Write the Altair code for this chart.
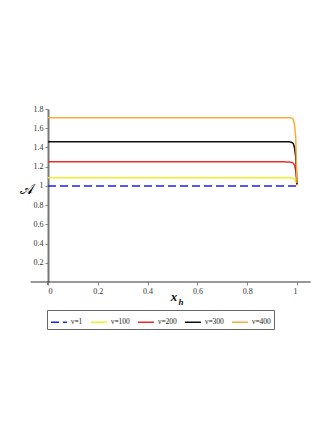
import altair as alt
import pandas as pd

series = ["ν=1", "ν=100", "ν=200", "ν=300", "ν=400"]
colors = ["#1f1ff0", "#f2ee2a", "#ee2a2a", "#111111", "#f7ad3a"]
dashes = [[8, 4], [1, 0], [1, 0], [1, 0], [1, 0]]

xh = [0.0, 0.95, 0.97, 0.98, 0.985, 0.99, 0.995, 1.0]
a_nu1 = [1.0, 1.0, 1.0, 1.0, 1.0, 1.0, 1.0, 1.0]
a_nu100 = [1.085, 1.085, 1.084, 1.082, 1.078, 1.068, 1.045, 1.0]
a_nu200 = [1.25, 1.25, 1.248, 1.244, 1.236, 1.215, 1.16, 1.01]
a_nu300 = [1.46, 1.46, 1.458, 1.452, 1.44, 1.40, 1.30, 1.02]
a_nu400 = [1.71, 1.71, 1.709, 1.705, 1.69, 1.64, 1.50, 1.03]

x_ticks = [0, 0.2, 0.4, 0.6, 0.8, 1.0]
y_ticks = [0.2, 0.4, 0.6, 0.8, 1.0, 1.2, 1.4, 1.6, 1.8]

rows = []
for name, vals in zip(series, [a_nu1, a_nu100, a_nu200, a_nu300, a_nu400]):
    for x, v in zip(xh, vals):
        rows.append({"series": name, "x": x, "A": v})
df = pd.DataFrame(rows)

FONT = "Liberation Serif"

xscale = alt.Scale(domain=[0, 1], nice=False, zero=False)
yscale = alt.Scale(domain=[0, 1.8], nice=False)

x_axis = alt.Axis(values=x_ticks, format="~g", title=None, grid=False,
                  domain=False, tickSize=3, tickColor="#888",
                  labelPadding=2, labelOverlap=False)
y_axis = alt.Axis(values=y_ticks, format="~g", grid=False,
                  domain=True, domainColor="#777", domainWidth=2,
                  tickSize=3, tickColor="#888", labelPadding=2,
                  labelOverlap=False,
                  title="𝒜", titleAngle=0, titleX=-22, titleY=87,
                  titleFont=FONT, titleFontSize=15,
                  titleFontWeight="normal", titleAlign="center")

lines = alt.Chart(df).mark_line(strokeWidth=1.5).encode(
    x=alt.X("x:Q", scale=xscale, axis=x_axis),
    y=alt.Y("A:Q", scale=yscale, axis=y_axis),
    color=alt.Color("series:N", scale=alt.Scale(domain=series, range=colors),
                    title=None,
                    legend=alt.Legend(orient="none", legendX=-1, legendY=201,
                                      direction="horizontal",
                                      symbolType="stroke", symbolSize=256,
                                      symbolStrokeWidth=1.5,
                                      labelFont=FONT, labelFontSize=7.5,
                                      labelColor="#222", labelOffset=3,
                                      columnPadding=5,
                                      strokeColor="#666", padding=3)),
    strokeDash=alt.StrokeDash("series:N", scale=alt.Scale(domain=series, range=dashes),
                              title=None, legend=None),
    order=alt.Order("x:Q"),
)

axis_df = pd.DataFrame({"x": [-0.07], "x2": [1.055], "y": [0.0]})
xline = alt.Chart(axis_df).mark_rule(color="#333", strokeWidth=1.2).encode(
    x=alt.X("x:Q", scale=xscale, axis=x_axis), x2="x2:Q",
    y=alt.Y("y:Q", scale=yscale, axis=y_axis))

yext_df = pd.DataFrame({"x": [0.0], "y": [-0.03], "y2": [0.0]})
yext = alt.Chart(yext_df).mark_rule(color="#777", strokeWidth=2).encode(
    x=alt.X("x:Q", scale=xscale, axis=x_axis),
    y=alt.Y("y:Q", scale=yscale, axis=y_axis), y2="y2:Q")

title_x = alt.Chart(pd.DataFrame({"t": ["x"]})).mark_text(
    font=FONT, fontSize=13, fontStyle="italic", fontWeight="bold", color="#111"
).encode(text="t:N", x=alt.value(126), y=alt.value(188))
title_h = alt.Chart(pd.DataFrame({"t": ["h"]})).mark_text(
    font=FONT, fontSize=9, fontStyle="italic", fontWeight="bold", color="#111"
).encode(text="t:N", x=alt.value(133), y=alt.value(193))

chart = alt.layer(lines, xline, yext, title_x, title_h).properties(
    width=249, height=173,
    autosize=alt.AutoSizeParams(type="none"),
    padding={"left": 40, "top": 101, "right": 27, "bottom": 139},
).configure_view(stroke=None).configure_axis(
    labelFont=FONT, labelFontSize=8, labelColor="#333"
)

chart.save("out.html", embed_options={"renderer": "svg", "actions": False})
